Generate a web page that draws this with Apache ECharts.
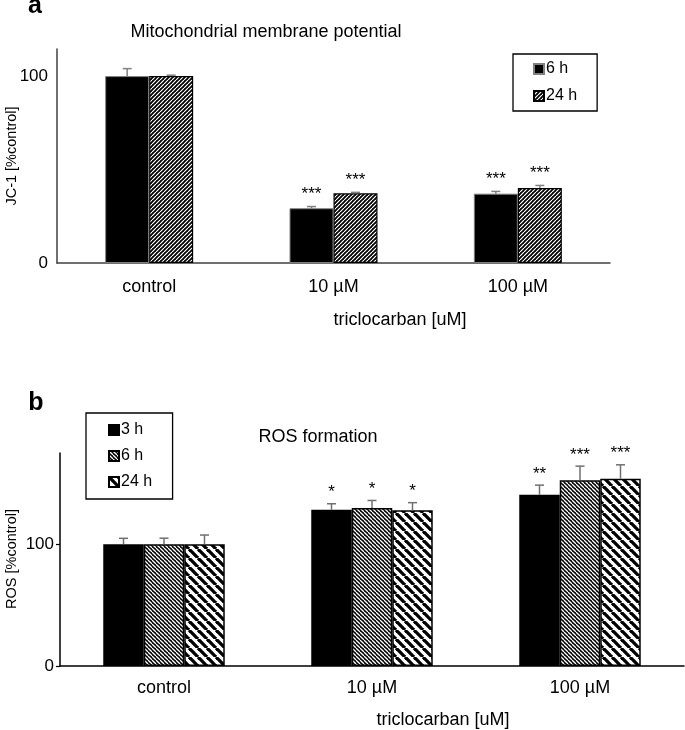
<!DOCTYPE html>
<html>
<head>
<meta charset="utf-8">
<script src="https://cdn.jsdelivr.net/npm/echarts@6/dist/echarts.min.js"></script>
<style>
html,body{margin:0;padding:0;background:#fff;}
#chart{width:685px;height:730px;}
</style>
</head>
<body>
<div id="chart"></div>
<script>
// ---------- data ----------
const categories = ['control', '10 µM', '100 µM'];
const xAxisName = 'triclocarban [uM]';

// panel a: JC-1 (mitochondrial membrane potential)
const jc1Names = ['6 h', '24 h'];
const jc1_6h = [100, 29.3, 37.1];
const jc1_24h = [100, 37.3, 40.1];
const jc1_6h_sd = [4.0, 0.9, 1.2];
const jc1_24h_sd = [0.5, 0.5, 1.4];
const jc1_6h_sig = ['', '***', '***'];
const jc1_24h_sig = ['', '***', '***'];
const jc1Ticks = [0, 100];

// panel b: ROS formation
const rosNames = ['3 h', '6 h', '24 h'];
const ros_3h = [100, 128.4, 140.7];
const ros_6h = [100, 129.8, 152.7];
const ros_24h = [100, 127.9, 153.9];
const ros_3h_sd = [4.9, 4.9, 7.9];
const ros_6h_sd = [5.0, 6.2, 11.5];
const ros_24h_sd = [7.6, 6.3, 11.4];
const ros_3h_sig = ['', '*', '**'];
const ros_6h_sig = ['', '*', '***'];
const ros_24h_sig = ['', '*', '***'];
const rosTicks = [0, 100];

// ---------- patterns ----------
function stripes(size, bg, fg, lw, dir) {
  const c = document.createElement('canvas');
  c.width = size; c.height = size;
  const g = c.getContext('2d');
  g.fillStyle = bg; g.fillRect(0, 0, size, size);
  g.strokeStyle = fg; g.lineWidth = lw;
  for (let k = -1; k <= 1; k++) {
    g.beginPath();
    if (dir === '/') { g.moveTo(k * size, size); g.lineTo(k * size + size, 0); }
    else { g.moveTo(k * size, 0); g.lineTo(k * size + size, size); }
    g.stroke();
  }
  return { image: c, repeat: 'repeat' };
}
const patA24 = stripes(4, '#000', '#fff', 1.2, '/');
const patB6 = stripes(4, '#000', '#fff', 1.3, '\\');
const patB24 = stripes(9, '#fff', '#000', 3.3, '\\');

const FONT = 'Liberation Sans, Arial, Helvetica, sans-serif';
const BW_A = 44, BW_B = 40.5;

function errItems(vals, sds, sigs) {
  const out = [];
  vals.forEach((v, k) => v.forEach((val, c) => out.push({ cat: c, k: k, val: val, sd: sds[k][c], sig: sigs[k][c] })));
  return out;
}
function errSeries(items, n, bw, xi, yi, color, starOff) {
  return {
    type: 'custom', xAxisIndex: xi, yAxisIndex: yi, z: 10, silent: true,
    data: items.map(d => [d.cat, d.val, d.val + d.sd]),
    encode: { x: 0, y: [1, 2] },
    renderItem: function (params, api) {
      const d = items[params.dataIndex];
      const base = api.coord([d.cat, d.val]);
      const top = api.coord([d.cat, d.val + d.sd]);
      const x = base[0] + (d.k - (n - 1) / 2) * bw;
      const children = [
        { type: 'line', shape: { x1: x, y1: base[1], x2: x, y2: top[1] }, style: { stroke: color, lineWidth: 1.5 } },
        { type: 'line', shape: { x1: x - 4.5, y1: top[1], x2: x + 4.5, y2: top[1] }, style: { stroke: color, lineWidth: 1.5 } }
      ];
      if (d.sig) {
        children.push({ type: 'text', x: x, y: top[1] - starOff,
          style: { text: d.sig, fontSize: 17, fontFamily: FONT, fill: '#000', align: 'center', verticalAlign: 'middle' } });
      }
      return { type: 'group', children: children };
    }
  };
}

const itemsA = errItems([jc1_6h, jc1_24h], [jc1_6h_sd, jc1_24h_sd], [jc1_6h_sig, jc1_24h_sig]);
const itemsB = errItems([ros_3h, ros_6h, ros_24h], [ros_3h_sd, ros_6h_sd, ros_24h_sd], [ros_3h_sig, ros_6h_sig, ros_24h_sig]);

const chart = echarts.init(document.getElementById('chart'), null, { renderer: 'canvas' });
const option = {
  animation: false,
  backgroundColor: '#fff',
  textStyle: { fontFamily: FONT },
  grid: [
    { left: 57, right: 75, top: 49, bottom: 467, containLabel: false, outerBoundsMode: 'none' },
    { left: 60, right: 1, top: 453, bottom: 64, containLabel: false, outerBoundsMode: 'none' }
  ],
  xAxis: [
    { type: 'category', gridIndex: 0, data: categories,
      axisLine: { lineStyle: { color: '#404040', width: 1.5 } }, axisTick: { show: false },
      axisLabel: { color: '#000', fontSize: 18, margin: 15, fontFamily: FONT } },
    { type: 'category', gridIndex: 1, data: categories,
      axisLine: { lineStyle: { color: '#000', width: 1.5 } }, axisTick: { show: false },
      axisLabel: { color: '#000', fontSize: 18, margin: 13, fontFamily: FONT } }
  ],
  yAxis: [
    { type: 'value', gridIndex: 0, min: jc1Ticks[0], max: 114.5, interval: jc1Ticks[1] - jc1Ticks[0],
      axisLine: { show: true, lineStyle: { color: '#404040', width: 1.5 } }, axisTick: { show: false },
      splitLine: { show: false },
      axisLabel: { color: '#000', fontSize: 17, margin: 9, fontFamily: FONT, showMaxLabel: false } },
    { type: 'value', gridIndex: 1, min: rosTicks[0], max: 175, interval: rosTicks[1] - rosTicks[0],
      axisLine: { show: true, lineStyle: { color: '#000', width: 1.5 } },
      axisTick: { show: true, inside: false, length: 4, lineStyle: { color: '#000', width: 1.2 } },
      splitLine: { show: false },
      axisLabel: { color: '#000', fontSize: 17, margin: 6, fontFamily: FONT, showMaxLabel: false } }
  ],
  legend: [
    { data: jc1Names, orient: 'vertical', left: 513, top: 54, padding: [7, 20, 7, 20],
      itemGap: 11, itemWidth: 10, itemHeight: 10, icon: 'rect',
      borderColor: '#000', borderWidth: 1.3, borderRadius: 0,
      textStyle: { color: '#000', fontSize: 16, fontFamily: FONT, padding: [0, 0, 0, -3] } },
    { data: rosNames.map(s => s + ' '), orient: 'vertical', left: 86, top: 413, padding: [9, 16, 9, 22],
      itemGap: 10, itemWidth: 10, itemHeight: 10, icon: 'rect',
      borderColor: '#000', borderWidth: 1.3, borderRadius: 0,
      textStyle: { color: '#000', fontSize: 16, fontFamily: FONT, padding: [0, 0, 0, -3] } }
  ],
  graphic: [
    { type: 'text', x: 35, y: 6, style: { text: 'a', fontSize: 25, fontWeight: 'bold', fontFamily: FONT, fill: '#000', align: 'center', verticalAlign: 'middle' } },
    { type: 'text', x: 266, y: 32, style: { text: 'Mitochondrial membrane potential', fontSize: 18, fontFamily: FONT, fill: '#000', align: 'center', verticalAlign: 'middle' } },
    { type: 'text', x: 12, y: 156, rotation: Math.PI / 2, style: { text: 'JC-1 [%control]', fontSize: 14.5, fontFamily: FONT, fill: '#000', align: 'center', verticalAlign: 'middle' } },
    { type: 'text', x: 400, y: 320, style: { text: xAxisName, fontSize: 18, fontFamily: FONT, fill: '#000', align: 'center', verticalAlign: 'middle' } },
    { type: 'text', x: 36, y: 403, style: { text: 'b', fontSize: 25, fontWeight: 'bold', fontFamily: FONT, fill: '#000', align: 'center', verticalAlign: 'middle' } },
    { type: 'text', x: 318, y: 437, style: { text: 'ROS formation', fontSize: 18, fontFamily: FONT, fill: '#000', align: 'center', verticalAlign: 'middle' } },
    { type: 'text', x: 12, y: 559, rotation: Math.PI / 2, style: { text: 'ROS [%control]', fontSize: 14.5, fontFamily: FONT, fill: '#000', align: 'center', verticalAlign: 'middle' } },
    { type: 'text', x: 443, y: 720, style: { text: xAxisName, fontSize: 18, fontFamily: FONT, fill: '#000', align: 'center', verticalAlign: 'middle' } }
  ],
  series: [
    { name: jc1Names[0], type: 'bar', xAxisIndex: 0, yAxisIndex: 0, data: jc1_6h, barWidth: BW_A, barGap: '0%',
      itemStyle: { color: '#000', borderColor: '#808080', borderWidth: 1 } },
    { name: jc1Names[1], type: 'bar', xAxisIndex: 0, yAxisIndex: 0, data: jc1_24h, barWidth: BW_A, barGap: '0%',
      itemStyle: { color: patA24, borderColor: '#000', borderWidth: 1.2 } },
    errSeries(itemsA, 2, BW_A, 0, 0, '#808080', 12),
    { name: rosNames[0] + ' ', type: 'bar', xAxisIndex: 1, yAxisIndex: 1, data: ros_3h, barWidth: BW_B, barGap: '0%',
      itemStyle: { color: '#000', borderColor: '#000', borderWidth: 1.5 } },
    { name: rosNames[1] + ' ', type: 'bar', xAxisIndex: 1, yAxisIndex: 1, data: ros_6h, barWidth: BW_B, barGap: '0%',
      itemStyle: { color: patB6, borderColor: '#000', borderWidth: 1.5 } },
    { name: rosNames[2] + ' ', type: 'bar', xAxisIndex: 1, yAxisIndex: 1, data: ros_24h, barWidth: BW_B, barGap: '0%',
      itemStyle: { color: patB24, borderColor: '#000', borderWidth: 1.5 } },
    errSeries(itemsB, 3, BW_B, 1, 1, '#707070', 11)
  ]
};
chart.setOption(option);
</script>
</body>
</html>
